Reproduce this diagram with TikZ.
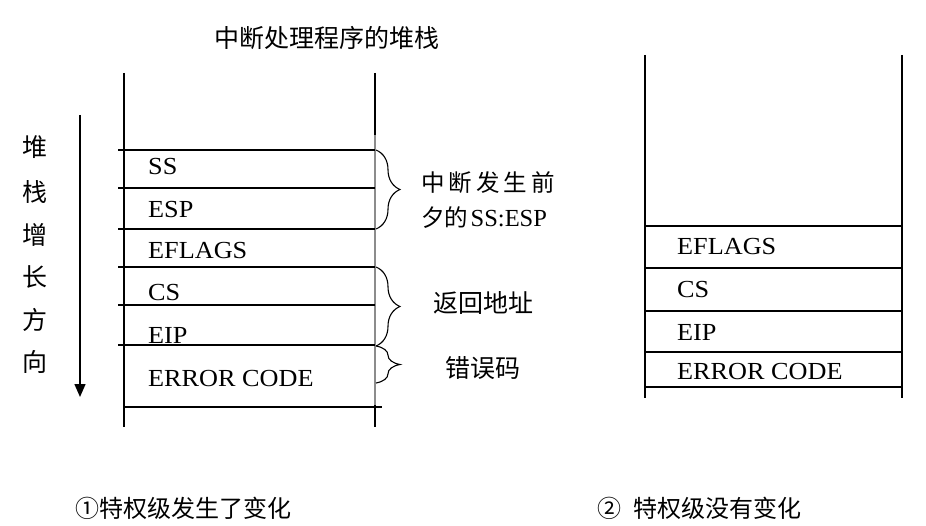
\documentclass[tikz,border=0pt]{standalone}
\usepackage{fontspec}
\setmainfont{Liberation Serif}
\newfontfamily\cjk{Noto Sans CJK SC}
\usetikzlibrary{decorations.pathreplacing,arrows.meta}
\begin{document}
\begin{tikzpicture}[x=1pt,y=-1pt,
  ln/.style={line width=1.1pt,black},
  cell/.style={anchor=west,inner sep=0pt,xscale=1.07,font=\fontsize{24.5}{24.5}\selectfont},
  zh/.style={inner sep=0pt,font=\cjk\fontsize{25}{25}\selectfont},
  brc/.style={decorate,decoration={brace,amplitude=24pt},line width=1.1pt}]
\useasboundingbox (0,0) rectangle (926,526);
% title
\node[zh] (title) at (327,38) {中断处理程序的堆栈};
% left stack
\draw[ln] (124,73) -- (124,427);
\draw[ln] (375,73) -- (375,135);
\draw[line width=1.5pt,black!45] (375,135) -- (375,405);
\draw[ln] (375,405) -- (375,427);
\foreach \y in {150,188,229,267,305,345} \draw[ln] (118,\y) -- (375,\y);
\draw[ln] (124,407) -- (382,407);
\node[cell] (ss) at (148,167) {SS};
\node[cell] (esp) at (148,210) {ESP};
\node[cell] (efl) at (148,251) {EFLAGS};
\node[cell] (cs) at (148,293) {CS};
\node[cell] (eip) at (148,335) {EIP};
\node[cell] (err) at (148,379) {ERROR CODE};
% braces
\coordinate (b1a) at (376,150); \coordinate (b1b) at (376,229);
\coordinate (b2a) at (376,267); \coordinate (b2b) at (376,346);
\coordinate (b3a) at (376,346); \coordinate (b3b) at (376,383);
\draw[brc] (b1a) -- (b1b);
\draw[brc] (b2a) -- (b2b);
\draw[brc] (b3a) -- (b3b);
\node[inner sep=0pt,anchor=west,font=\cjk\fontsize{23.5}{23.5}\selectfont] (l1) at (421,183) {中\hspace{4pt}断\hspace{4pt}发\hspace{4pt}生\hspace{4pt}前};
\node[anchor=west,inner sep=0pt] (l2) at (421,218) {{\cjk\fontsize{23.5}{23.5}\selectfont 夕的} {\fontsize{24.5}{24.5}\selectfont SS:ESP}};
\node[zh] (l3) at (483,303) {返回地址};
\node[zh] (l4) at (483,368) {错误码};
% left vertical label
\foreach \c/\y [count=\i] in {堆/147,栈/192,增/235,长/277,方/320,向/362}
  \node[zh] (v\i) at (35,\y) {\c};
\coordinate (arrA) at (80,115); \coordinate (arrB) at (80,397);
\draw[line width=1.4pt,-{Triangle[length=13pt,width=11pt]}] (arrA) -- (arrB);
% right stack
\draw[ln] (645,55) -- (645,398);
\draw[ln] (902,55) -- (902,398);
\foreach \y in {226,268,311,352,387} \draw[ln] (645,\y) -- (902,\y);
\node[cell] (efl2) at (677,247) {EFLAGS};
\node[cell] (cs2) at (677,290) {CS};
\node[cell] (eip2) at (677,332) {EIP};
\node[cell] (err2) at (677,372) {ERROR CODE};
% captions
\node[zh,anchor=west,font=\cjk\fontsize{24}{24}\selectfont] (cap1) at (75,508) {①特权级发生了变化};
\node[zh,anchor=west,font=\cjk\fontsize{24}{24}\selectfont] (cap2) at (597,508) {②\hspace{12pt}特权级没有变化};
\end{tikzpicture}
\end{document}
